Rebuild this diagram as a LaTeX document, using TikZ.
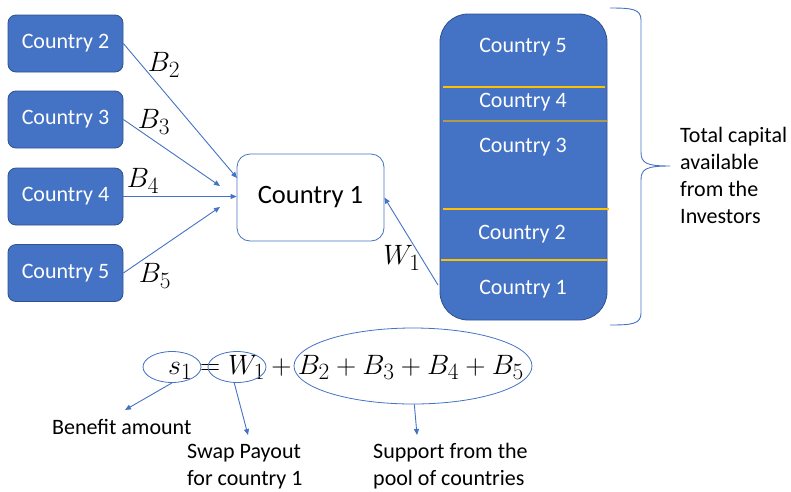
\documentclass[tikz,border=0pt]{standalone}
\usepackage{graphicx}
\usepackage{fontspec}
\setmainfont{Carlito}
\usetikzlibrary{arrows.meta,shapes.geometric}
\definecolor{accent}{HTML}{4472C4}
\definecolor{accentdark}{HTML}{2F528F}
\definecolor{gold}{HTML}{FFC000}
\definecolor{olivegold}{HTML}{B09A50}
% math set at the largest Computer Modern size, then enlarged
\newcommand{\bigmath}[1]{\scalebox{1.125}{\fontsize{24.88}{28}\selectfont$#1$}}

\begin{document}
\begin{tikzpicture}[x=1pt,y=-1pt,
  box/.style={draw=accentdark, line width=0.8pt, fill=accent, rounded corners=8pt,
    minimum width=115pt, minimum height=57pt, inner sep=0pt,
    text=white, font=\fontsize{22}{26}\selectfont},
  target/.style={draw=accent, line width=0.8pt, fill=white, rounded corners=13pt,
    minimum width=147pt, minimum height=87pt, inner sep=0pt,
    font=\fontsize{26.5}{30}\selectfont},
  slab/.style={text=white, font=\fontsize{22}{26}\selectfont, inner sep=0pt},
  arr/.style={draw=accent, line width=0.9pt, -{Triangle[length=6pt,width=5pt]}},
  mlabel/.style={inner sep=0pt},
  ell/.style={draw=accent, line width=0.8pt, ellipse, inner sep=0pt},
  note/.style={inner sep=0pt, align=left, font=\fontsize{22}{27}\selectfont},
  divider/.style={draw=gold, line width=1.3pt}
]
\useasboundingbox (0,0) rectangle (791,491);

% contributing countries
\node[box] (c2) at (65.5,43.5) {Country 2};
\node[box] (c3) at (65.5,119.5) {Country 3};
\node[box] (c4) at (65.5,196.5) {Country 4};
\node[box] (c5) at (65.5,273) {Country 5};

% receiving country
\node[target] (c1) at (310.5,197.5) {Country 1};

% arrow end points near the receiving country
\coordinate (t2) at (237,178);
\coordinate (t3) at (220,186);
\coordinate (t5) at (220,207);

\draw[arr] (c2.east) -- (t2);
\draw[arr] (c3.east) -- (t3);
\draw[arr] (c4.east) -- (c4.east -| c1.west);
\draw[arr] (c5.east) -- (t5);

\node[mlabel] (b2) at (164,65) {\bigmath{B_2}};
\node[mlabel] (b3) at (154,122) {\bigmath{B_3}};
\node[mlabel] (b4) at (143,181) {\bigmath{B_4}};
\node[mlabel] (b5) at (155,276) {\bigmath{B_5}};

% investor capital stack
\node[draw=accentdark, line width=0.8pt, fill=accent, rounded corners=28pt,
      minimum width=167pt, minimum height=306pt, inner sep=0pt] (stack) at (523.5,167) {};
\draw[divider] (443,87) -- (605,87);
\draw[draw=olivegold, line width=1.3pt] (443,121) -- (607,121);
\draw[divider] (443,209) -- (609,209);
\draw[divider] (441,260) -- (607,260);

\node[slab] (s5) at (523,47) {Country 5};
\node[slab] (s4) at (523,102) {Country 4};
\node[slab] (s3) at (523,147) {Country 3};
\node[slab] (s2) at (522,234) {Country 2};
\node[slab] (s1) at (523,289) {Country 1};

% swap payout
\coordinate (wsrc) at (438,285);
\draw[arr] (wsrc) -- (c1.east);
\node[mlabel] (w1) at (402,258) {\bigmath{W_1}};

% brace over the stack
\draw[accent, line width=0.9pt]
  (610,8) .. controls (632,8) and (641,9) .. (641,20)
  -- (641,152) .. controls (641,163) and (646,166) .. (670,166)
  .. controls (646,166) and (641,169) .. (641,180)
  -- (641,313) .. controls (641,324) and (632,325) .. (610,325);
\node[note, anchor=base west] (cap) at (680,223)
  {Total capital\\available\\from the\\Investors};

% benefit equation
\node[inner sep=0pt, anchor=base west] (eq) at (168,374)
  {\bigmath{s_1 = W_1 + B_2 + B_3 + B_4 + B_5}};
\node[ell, minimum width=58pt, minimum height=31pt] (e1) at (172,367) {};
\node[ell, minimum width=58pt, minimum height=31pt] (e2) at (237,367) {};
\node[ell, minimum width=238pt, minimum height=76pt] (e3) at (413,366) {};

\coordinate (a1) at (125,410);
\coordinate (a2) at (248,435);
\coordinate (a3) at (417,435);
\draw[arr] (e1.south) -- (a1);
\draw[arr] (e2.-100) -- (a2);
\draw[arr] (e3.-88) -- (a3);

\node[note, anchor=base west] (n1) at (52,434) {Benefit amount};
\node[note, anchor=base west] (n2) at (187,485) {Swap Payout\\for country 1};
\node[note, anchor=base west] (n3) at (373,485) {Support from the\\pool of countries};
\end{tikzpicture}
\end{document}
